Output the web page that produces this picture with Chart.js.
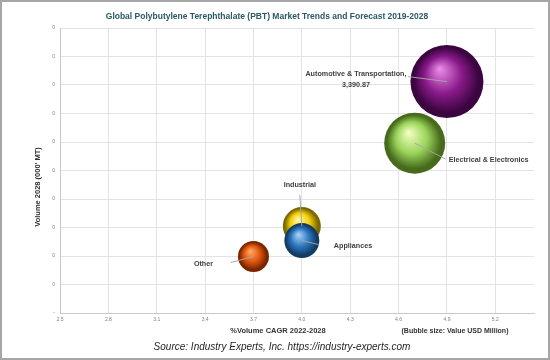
<!DOCTYPE html>
<html>
<head>
<meta charset="utf-8">
<title>Global PBT Market Trends and Forecast 2019-2028</title>
<script src="https://cdn.jsdelivr.net/npm/chart.js@4.4.0/dist/chart.umd.min.js"></script>
<style>
    body { margin: 0; background: #fff; }
    #wrap { width: 550px; height: 360px; position: relative; }
</style>
</head>
<body>
<div id="wrap"><canvas id="myBubbleChart" width="550" height="360"></canvas></div>
<script>
// data
var segments = ["Automotive & Transportation", "Electrical & Electronics", "Industrial", "Appliances", "Other"];
var cagrValues = [4.9, 4.7, 4.0, 4.0, 3.7];          // %Volume CAGR 2022-2028
var volumeValues = [812, 596, 305, 254, 198];         // Volume 2028 (000' MT)
var valueUSD = [3390.87, 2368, 919, 780, 611];        // bubble size, USD Million
var xTickValues = [2.5, 2.8, 3.1, 3.4, 3.7, 4.0, 4.3, 4.6, 4.9, 5.2];
var yTickLabels = ["-", "0", "0", "0", "0", "0", "0", "0", "0", "0", "0"];

// sphere colours: highlight, base, edge
var sphereColors = [
    ["#e98ae6", "#8a1a8a", "#3c0540"],
    ["#f4ffc4", "#9ad45a", "#476b1c"],
    ["#fff7a6", "#f2cf0a", "#7d6800"],
    ["#a9d3f5", "#2e78c0", "#113c66"],
    ["#ffab66", "#e2570f", "#7a2500"]
];

// label placement relative to the bubble centre (text dx, dy, align, leader end dx, dy)
var labelStyle = [
    { dx: -91, dy: -8, align: "center", lx: -39, ly: -5, second: "3,390.87" },
    { dx: 34, dy: 17, align: "left", lx: 31, ly: 16 },
    { dx: -2, dy: -41, align: "center", lx: -2, ly: -31 },
    { dx: 32, dy: 5, align: "left", lx: 17, ly: 4 },
    { dx: -50, dy: 7, align: "center", lx: -23, ly: 6 }
];

var maxR = 36.5;
var maxValue = Math.max.apply(null, valueUSD);
function bubbleRadius(v) {
    return maxR * Math.sqrt(v / maxValue);
}

var bubbleData = segments.map(function (s, i) {
    return { x: cagrValues[i], y: volumeValues[i], r: bubbleRadius(valueUSD[i]) };
});

var FONT = '"Liberation Sans", Arial, sans-serif';

var textPlugin = {
    id: 'textPlugin',
    beforeDraw: function (chart) {
        var c = chart.ctx;
        c.save();
        c.fillStyle = '#ffffff';
        c.fillRect(0, 0, chart.width, chart.height);
        c.restore();
    },
    afterDatasetsDraw: function (chart) {
        var c = chart.ctx;
        var meta = chart.getDatasetMeta(0);
        c.save();
        meta.data.forEach(function (el, i) {
            var l = labelStyle[i];
            // leader line
            c.strokeStyle = 'rgba(165,165,165,0.95)';
            c.lineWidth = 1;
            c.beginPath();
            c.moveTo(el.x, el.y);
            c.lineTo(el.x + l.lx, el.y + l.ly);
            c.stroke();
            // text
            c.fillStyle = '#404040';
            c.font = 'bold 7.2px ' + FONT;
            c.textAlign = l.align;
            c.textBaseline = 'middle';
            var name = l.second ? segments[i] + ',' : segments[i];
            c.fillText(name, el.x + l.dx, el.y + l.dy);
            if (l.second) {
                c.fillText(l.second, el.x + l.dx, el.y + l.dy + 11);
            }
        });
        c.restore();
    },
    afterDraw: function (chart) {
        var c = chart.ctx;
        c.save();
        // title
        c.fillStyle = '#2b5a60';
        c.font = 'bold 8.5px ' + FONT;
        c.textAlign = 'center';
        c.textBaseline = 'middle';
        c.fillText('Global Polybutylene Terephthalate (PBT) Market Trends and Forecast 2019-2028', 267, 17);

        // axis titles
        c.fillStyle = '#333333';
        c.font = 'bold 7.5px ' + FONT;
        c.fillText('%Volume CAGR 2022-2028', 278, 331);
        c.font = 'bold 7px ' + FONT;
        c.fillText('(Bubble size: Value USD Million)', 455, 331);

        c.save();
        c.translate(38, 187);
        c.rotate(-Math.PI / 2);
        c.font = 'bold 7.5px ' + FONT;
        c.fillText("Volume 2028 (000' MT)", 0, 0);
        c.restore();

        // source
        c.fillStyle = '#262626';
        c.font = 'italic 10px ' + FONT;
        c.fillText('Source: Industry Experts, Inc. https://industry-experts.com', 282, 347);

        // frame
        c.strokeStyle = '#a6a6a6';
        c.lineWidth = 2;
        c.strokeRect(1, 1, chart.width - 2, chart.height - 2);
        c.restore();
    }
};

function sphereFill(context) {
    var chart = context.chart;
    var i = context.dataIndex;
    var col = sphereColors[i] || sphereColors[0];
    var d = context.raw;
    if (!chart.chartArea || !d) {
        return col[1];
    }
    var x = chart.scales.x.getPixelForValue(d.x);
    var y = chart.scales.y.getPixelForValue(d.y);
    var r = d.r;
    var g = chart.ctx.createRadialGradient(x - r * 0.2, y - r * 0.35, r * 0.02, x, y, r);
    g.addColorStop(0, col[0]);
    g.addColorStop(0.5, col[1]);
    g.addColorStop(0.88, col[2]);
    g.addColorStop(1, col[2]);
    return g;
}

new Chart("myBubbleChart", {
    type: "bubble",
    data: {
        labels: segments,
        datasets: [{
            label: 'Segments',
            data: bubbleData,
            backgroundColor: sphereFill,
            borderWidth: 0,
            clip: false
        }]
    },
    options: {
        responsive: false,
        devicePixelRatio: 1,
        animation: false,
        layout: {
            autoPadding: false,
            padding: { top: 28, right: 16, left: 0, bottom: 0 }
        },
        plugins: {
            legend: { display: false },
            title: { display: false },
            tooltip: { enabled: false }
        },
        scales: {
            x: {
                type: 'linear',
                min: 2.5,
                max: 5.44,
                afterBuildTicks: function (scale) {
                    scale.ticks = xTickValues.map(function (v) { return { value: v }; });
                },
                afterFit: function (scale) { scale.height = 47; },
                grid: { color: '#e3e3e3', drawTicks: false },
                border: { color: '#c8c8c8' },
                ticks: {
                    padding: 4,
                    color: '#7f7f7f',
                    font: { size: 5, family: FONT },
                    callback: function (v) { return v.toFixed(1); }
                }
            },
            y: {
                min: 0,
                max: 1000,
                afterFit: function (scale) { scale.width = 60; },
                grid: { color: '#e3e3e3', drawTicks: false },
                border: { color: '#c8c8c8' },
                ticks: {
                    stepSize: 100,
                    padding: 5,
                    color: '#7f7f7f',
                    font: { size: 5, family: FONT },
                    callback: function (v, i) { return yTickLabels[i]; }
                }
            }
        }
    },
    plugins: [textPlugin]
});
</script>
</body>
</html>
